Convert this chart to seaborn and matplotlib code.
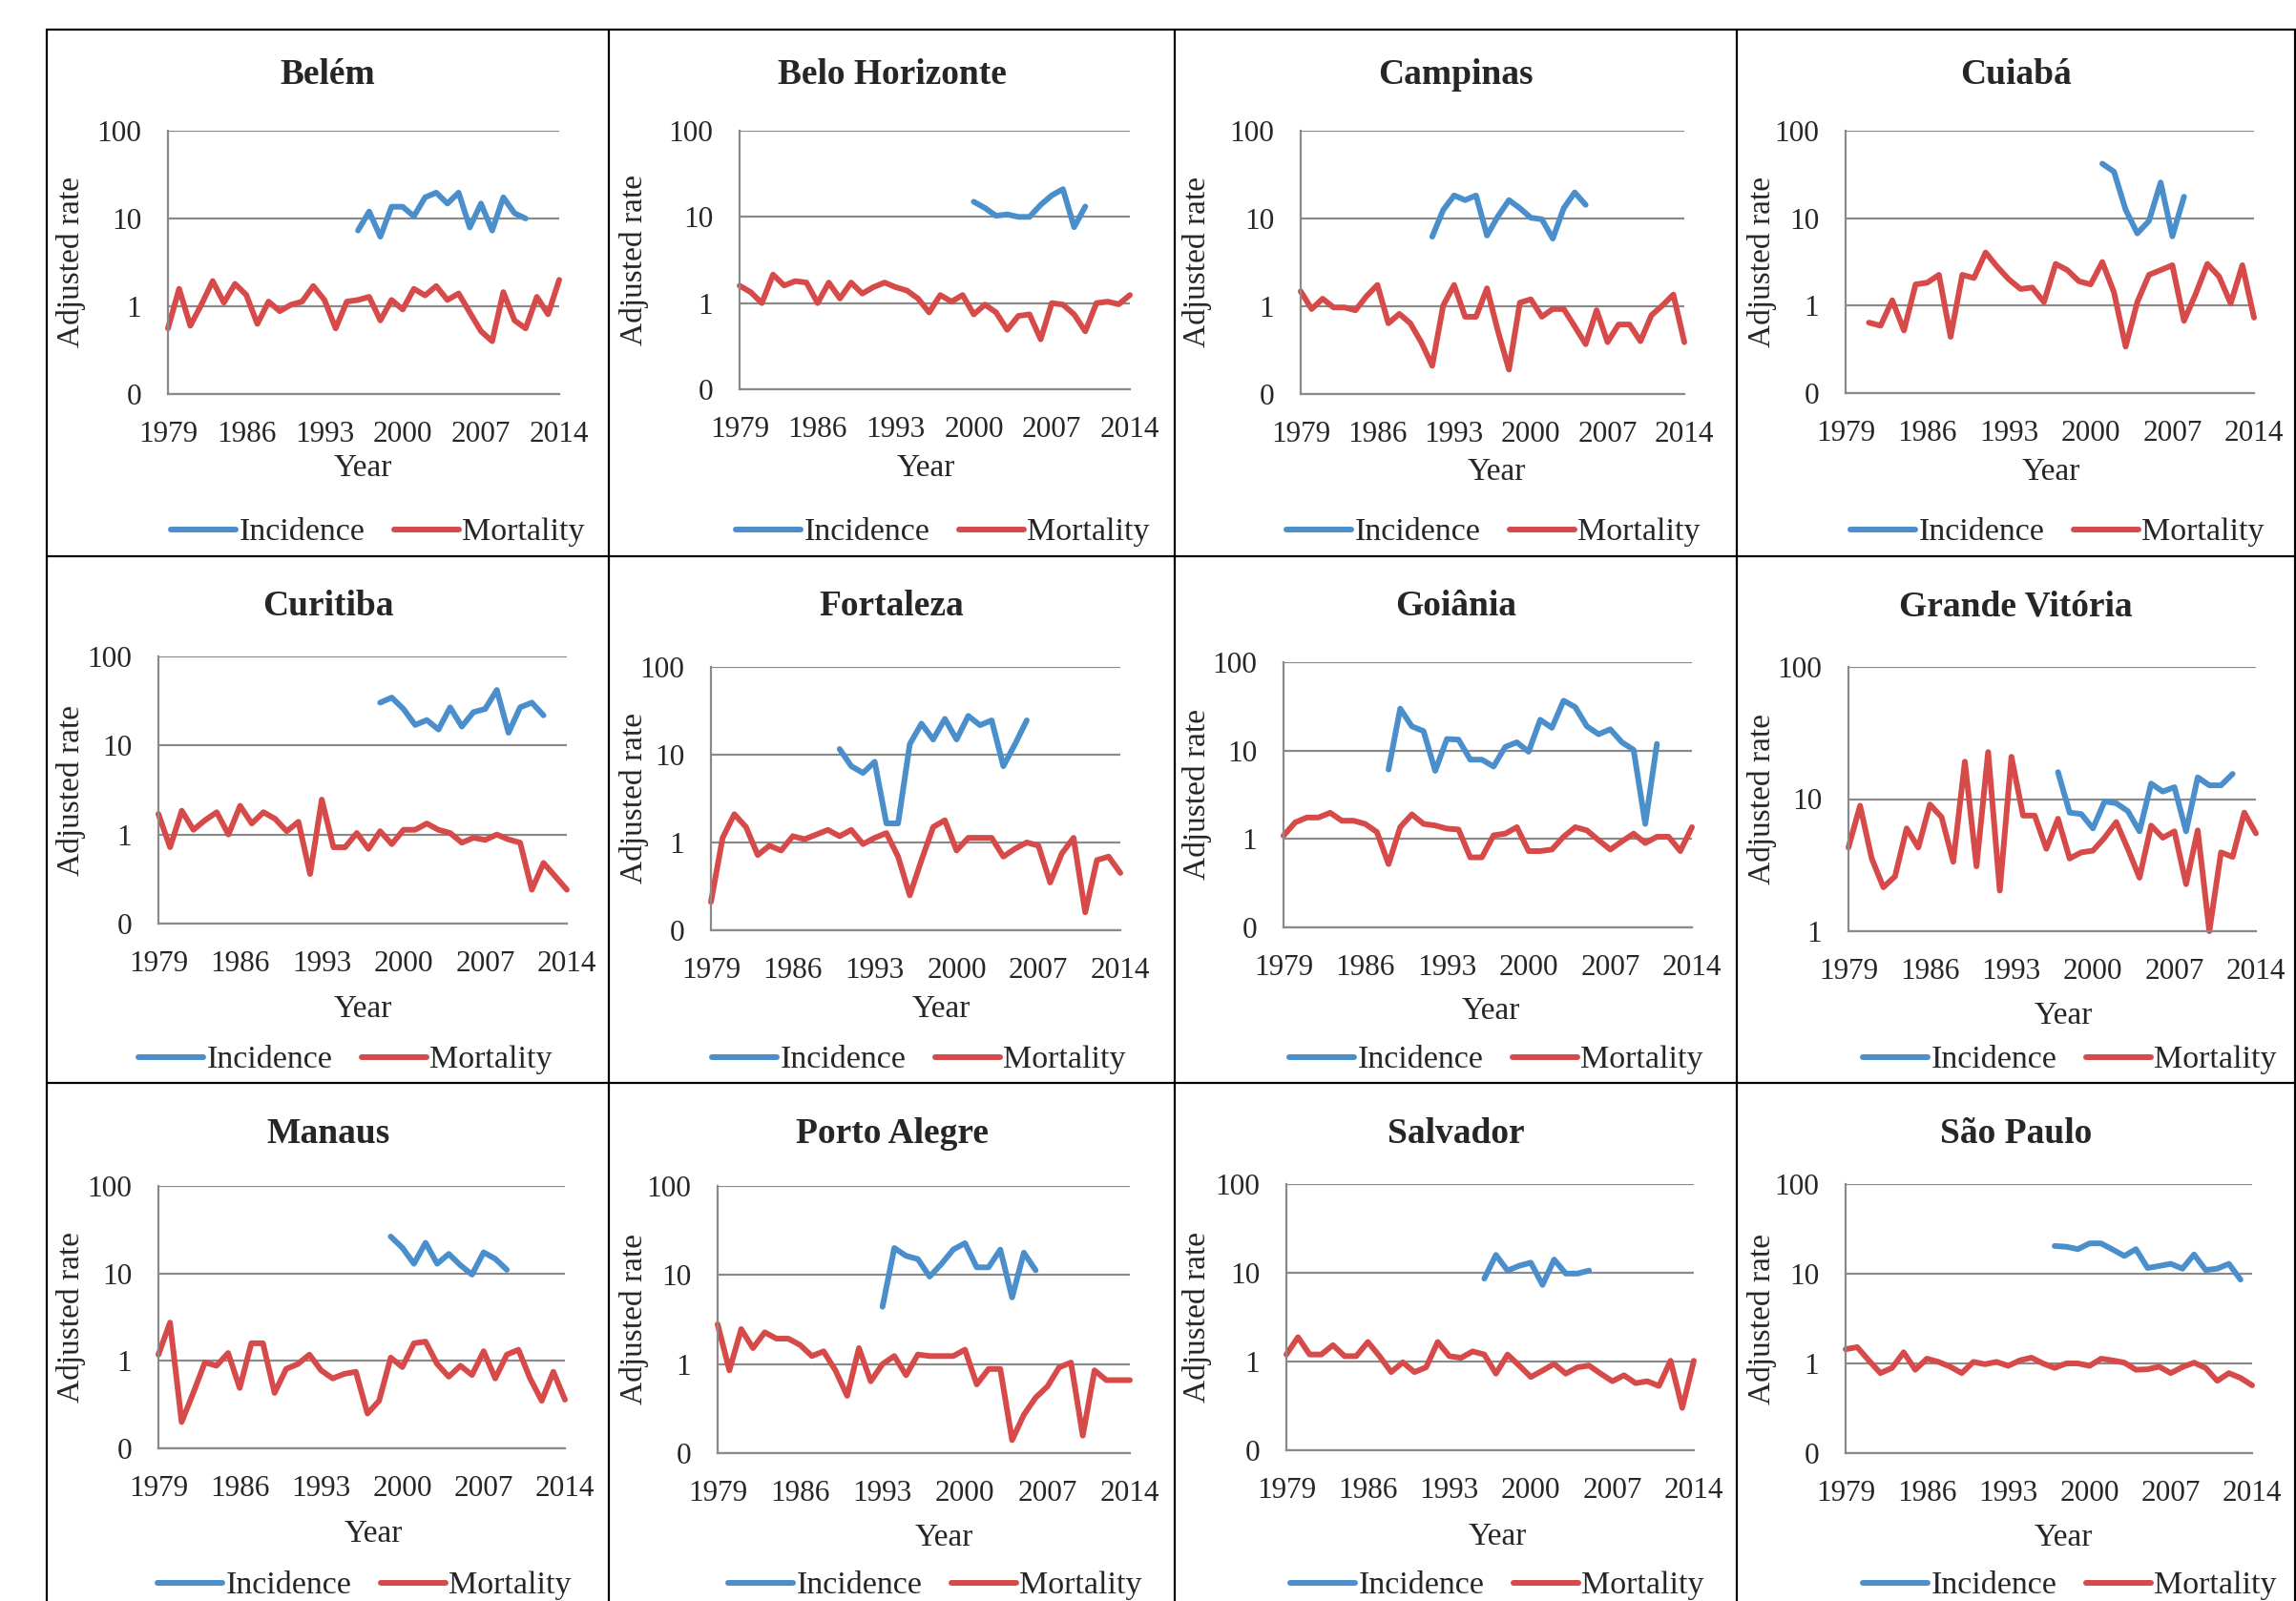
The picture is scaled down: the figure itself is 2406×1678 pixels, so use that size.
import numpy as np
import pandas as pd
import seaborn as sns
import matplotlib.pyplot as plt
from matplotlib.lines import Line2D
from matplotlib.ticker import NullLocator

# ---- data ----
cities = ["Belém", "Belo Horizonte", "Campinas", "Cuiabá",
          "Curitiba", "Fortaleza", "Goiânia", "Grande Vitória",
          "Manaus", "Porto Alegre", "Salvador", "São Paulo"]

# first year of each series
inc_start = [1996, 2000, 1991, 2001, 1998, 1990, 1988, 1997, 1999, 1993, 1996, 1997]
mort_start = [1979, 1979, 1979, 1981, 1979, 1979, 1979, 1979, 1979, 1979, 1979, 1979]

belem_inc = [7.3, 12, 6.2, 13.6, 13.6, 10.6, 17.4, 19.7, 14.8, 19.7, 7.9, 14.8, 7.3, 17.4, 11.5, 10]
belem_mort = [0.56, 1.58, 0.6, 1.05, 1.94, 1.1, 1.8, 1.35, 0.63, 1.13, 0.88, 1.04, 1.13, 1.7, 1.18, 0.56,
              1.13, 1.18, 1.28, 0.69, 1.18, 0.92, 1.58, 1.33, 1.7, 1.18, 1.4, 0.85, 0.52, 0.4, 1.45, 0.69,
              0.56, 1.28, 0.81, 2.0]

bh_inc = [15, 12.7, 10.3, 10.7, 10, 10, 13.8, 17.8, 21, 7.6, 13.2]
bh_mort = [1.59, 1.34, 1.0, 2.14, 1.6, 1.8, 1.73, 1.0, 1.73, 1.13, 1.73, 1.29, 1.53, 1.73, 1.53, 1.4,
           1.13, 0.78, 1.24, 1.04, 1.24, 0.74, 0.96, 0.78, 0.49, 0.71, 0.74, 0.38, 1.0, 0.96, 0.74, 0.47,
           1.0, 1.04, 0.97, 1.24]

campinas_inc = [6.2, 12.5, 18.3, 16.2, 18.3, 6.4, 10.6, 16.2, 13.1, 10.2, 9.8, 5.9, 13.1, 19.8, 14.3]
campinas_mort = [1.48, 0.93, 1.22, 0.97, 0.97, 0.9, 1.3, 1.75, 0.64, 0.82, 0.64, 0.39, 0.21, 1.02, 1.75, 0.76,
                 0.76, 1.6, 0.52, 0.19, 1.1, 1.2, 0.76, 0.93, 0.93, 0.59, 0.37, 0.9, 0.39, 0.62, 0.62, 0.4,
                 0.79, 1.02, 1.36, 0.39]

cuiaba_inc = [42, 34, 12.5, 6.7, 9.3, 25.6, 6.2, 17.6]
cuiaba_mort = [0.64, 0.59, 1.15, 0.52, 1.75, 1.83, 2.25, 0.44, 2.25, 2.07, 4.05, 2.78, 1.99, 1.55, 1.61, 1.1,
               3.0, 2.55, 1.9, 1.75, 3.15, 1.42, 0.34, 1.1, 2.25, 2.55, 2.9, 0.67, 1.36, 3.0, 2.16, 1.06,
               2.9, 0.73]

curitiba_inc = [30.3, 34.5, 25.7, 17, 19.3, 15.1, 26.8, 16.3, 23.7, 25.7, 42, 13.9, 26.8, 30.3, 21.8]
curitiba_mort = [1.7, 0.72, 1.85, 1.13, 1.45, 1.78, 1.0, 2.1, 1.33, 1.78, 1.5, 1.09, 1.39, 0.36, 2.47, 0.72,
                 0.72, 1.04, 0.69, 1.09, 0.78, 1.13, 1.13, 1.33, 1.13, 1.04, 0.81, 0.92, 0.87, 1.0, 0.88, 0.81,
                 0.24, 0.48, 0.34, 0.24]

fortaleza_inc = [11.6, 7.4, 6.2, 8.3, 1.65, 1.65, 13.2, 22.6, 14.9, 25.6, 14.9, 27.7, 21.7, 24.6, 7.4, 13.2, 24.6]
fortaleza_mort = [0.21, 1.13, 2.1, 1.5, 0.72, 0.92, 0.81, 1.18, 1.09, 1.23, 1.39, 1.18, 1.39, 0.96, 1.13, 1.28,
                  0.69, 0.25, 0.63, 1.5, 1.79, 0.81, 1.13, 1.13, 1.13, 0.69, 0.85, 1.0, 0.92, 0.35, 0.75, 1.13,
                  0.16, 0.63, 0.69, 0.45]

goiania_inc = [6.1, 29.8, 18.8, 16.6, 5.9, 13.5, 13.3, 7.9, 7.9, 6.6, 11, 12.4, 9.7, 22.3, 18.1, 36.7,
               31, 18.8, 15.3, 17.4, 12.4, 10.2, 1.48, 11.9]
goiania_mort = [1.09, 1.54, 1.75, 1.75, 1.98, 1.61, 1.61, 1.48, 1.2, 0.52, 1.36, 1.9, 1.48, 1.42, 1.31, 1.28,
                0.62, 0.62, 1.1, 1.15, 1.36, 0.73, 0.73, 0.76, 1.06, 1.36, 1.25, 0.97, 0.76, 0.94, 1.15, 0.9,
                1.06, 1.06, 0.73, 1.36]

vitoria_inc = [16, 7.9, 7.7, 6.0, 9.6, 9.3, 8.1, 5.7, 13.1, 11.4, 12.3, 5.7, 14.6, 12.7, 12.7, 15.5]
vitoria_mort = [4.3, 8.9, 3.55, 2.15, 2.6, 6.0, 4.3, 9.1, 7.3, 3.35, 19.2, 3.1, 22.7, 2.03, 20.9, 7.5,
                7.5, 4.2, 7.1, 3.55, 3.95, 4.07, 5.1, 6.7, 4.2, 2.54, 6.3, 5.1, 5.7, 2.27, 5.8, 1.0,
                3.95, 3.65, 7.9, 5.5]

manaus_inc = [26.4, 19.7, 12.9, 22.4, 12.9, 16.7, 12.4, 9.7, 17.4, 14.7, 11]
manaus_mort = [1.18, 2.74, 0.2, 0.43, 0.96, 0.88, 1.23, 0.49, 1.59, 1.59, 0.43, 0.81, 0.92, 1.18, 0.78, 0.63,
               0.71, 0.75, 0.25, 0.35, 1.09, 0.85, 1.59, 1.66, 0.92, 0.66, 0.88, 0.69, 1.29, 0.63, 1.18, 1.34,
               0.63, 0.35, 0.75, 0.36]

poa_inc = [4.4, 20.1, 16.4, 15.1, 9.6, 13.3, 19.3, 22.8, 12.2, 12.2, 19.3, 5.6, 17.8, 11.3]
poa_mort = [2.8, 0.85, 2.47, 1.51, 2.27, 1.93, 1.93, 1.64, 1.23, 1.39, 0.85, 0.44, 1.51, 0.64, 1.0, 1.23,
            0.75, 1.28, 1.23, 1.23, 1.23, 1.45, 0.59, 0.88, 0.88, 0.14, 0.27, 0.42, 0.56, 0.92, 1.04, 0.157,
            0.85, 0.66, 0.66, 0.66]

salvador_inc = [8.6, 15.9, 10.6, 12, 13, 7.3, 14.1, 9.8, 9.8, 10.6]
salvador_mort = [1.2, 1.88, 1.2, 1.2, 1.53, 1.15, 1.15, 1.66, 1.15, 0.76, 0.98, 0.76, 0.86, 1.66, 1.15, 1.1,
                 1.3, 1.2, 0.73, 1.2, 0.9, 0.67, 0.79, 0.94, 0.73, 0.86, 0.9, 0.73, 0.6, 0.7, 0.57, 0.6,
                 0.53, 1.02, 0.3, 1.02]

sp_inc = [20.4, 20, 18.8, 21.8, 21.8, 18.6, 15.8, 18.8, 11.6, 12.2, 12.9, 11.4, 16.4, 11, 11.4, 12.9, 8.6]
sp_mort = [1.44, 1.52, 1.08, 0.78, 0.89, 1.33, 0.85, 1.13, 1.04, 0.92, 0.78, 1.04, 0.98, 1.04, 0.94, 1.08,
           1.16, 1.0, 0.89, 1.0, 1.0, 0.94, 1.13, 1.08, 1.02, 0.85, 0.86, 0.92, 0.78, 0.91, 1.02, 0.89,
           0.64, 0.78, 0.69, 0.57]

incidence = [belem_inc, bh_inc, campinas_inc, cuiaba_inc, curitiba_inc, fortaleza_inc,
             goiania_inc, vitoria_inc, manaus_inc, poa_inc, salvador_inc, sp_inc]
mortality = [belem_mort, bh_mort, campinas_mort, cuiaba_mort, curitiba_mort, fortaleza_mort,
             goiania_mort, vitoria_mort, manaus_mort, poa_mort, salvador_mort, sp_mort]

year_ticks = [1979, 1986, 1993, 2000, 2007, 2014]

# ---- layout (pixels in a 2406x1678 canvas) ----
W, H = 2406, 1678
# plot area: left, top, right, bottom
rects = [(176, 137, 586, 413), (775, 137, 1184, 408), (1363, 137, 1765, 413), (1934, 137, 2362, 412),
         (166, 688, 594, 968), (745, 699, 1174, 975), (1345, 694, 1773, 972), (1937, 699, 2364, 976),
         (166, 1243, 592, 1518), (752, 1243, 1184, 1523), (1348, 1241, 1775, 1520), (1934, 1241, 2360, 1523)]
col_edges = [49, 638, 1231, 1820, 2405]
row_edges = [31, 583, 1135, 1700]
title_y = [78, 636, 1188]
ylab_x = [74, 665, 1255, 1846]
xlab_pos = [(380, 491), (970, 491), (1568, 495), (2149, 495),
            (380, 1058), (986, 1058), (1562, 1060), (2162, 1065),
            (391, 1608), (989, 1612), (1569, 1611), (2162, 1612)]
leg_x = [396, 988, 1565, 2156, 362, 963, 1568, 2169, 382, 980, 1569, 2169]
leg_y = [558, 1111, 1662]

blue = "#4a8fcb"
red = "#d64b4a"
grid_c = "#8a8a8a"

sns.set_style("white")
plt.rcParams["font.family"] = ["Liberation Serif", "DejaVu Serif"]

fig = plt.figure(figsize=(W / 100, H / 100), dpi=100)

for i, city in enumerate(cities):
    l, t, r, b = rects[i]
    ax = fig.add_axes([l / W, 1 - b / H, (r - l) / W, (b - t) / H])
    inc = incidence[i]
    mort = mortality[i]
    df = pd.concat([
        pd.DataFrame({"year": np.arange(inc_start[i], inc_start[i] + len(inc)), "rate": inc, "series": "Incidence"}),
        pd.DataFrame({"year": np.arange(mort_start[i], mort_start[i] + len(mort)), "rate": mort, "series": "Mortality"}),
    ], ignore_index=True)
    sns.lineplot(data=df, x="year", y="rate", hue="series", palette={"Incidence": blue, "Mortality": red},
                 estimator=None, linewidth=4.3, legend=False, ax=ax,
                 solid_joinstyle="round", solid_capstyle="round")

    ax.set_yscale("log")
    if city == "Grande Vitória":
        ax.set_ylim(1, 100)
        ax.set_yticks([1, 10, 100])
        ax.set_yticklabels(["1", "10", "100"])
    else:
        ax.set_ylim(0.1, 100)
        ax.set_yticks([0.1, 1, 10, 100])
        ax.set_yticklabels(["0", "1", "10", "100"])
    ax.yaxis.set_minor_locator(NullLocator())
    ax.set_xlim(1979, 2014)
    ax.set_xticks(year_ticks)
    ax.set_xticklabels([str(y) for y in year_ticks])
    ax.tick_params(axis="both", length=0, labelsize=22.5)
    ax.tick_params(axis="x", pad=20)
    ax.tick_params(axis="y", pad=20)

    ax.grid(axis="y", color=grid_c, linewidth=1.6)
    ax.grid(axis="x", visible=False)
    for s in ["top", "right"]:
        ax.spines[s].set_visible(False)
    for s in ["left", "bottom"]:
        ax.spines[s].set_color(grid_c)
        ax.spines[s].set_linewidth(1.6)
    for ln in ax.lines:
        ln.set_clip_on(False)

    ax.set_ylabel("Adjusted rate", fontsize=24)
    ax.yaxis.set_label_coords(ylab_x[i % 4] / W, 1 - (t + b) / 2 / H, transform=fig.transFigure)
    ax.yaxis.label.set_va("center")
    ax.set_xlabel("Year", fontsize=24)
    ax.xaxis.set_label_coords(xlab_pos[i][0] / W, 1 - xlab_pos[i][1] / H, transform=fig.transFigure)
    ax.xaxis.label.set_va("center")

    cx = (col_edges[i % 4] + col_edges[i % 4 + 1]) / 2
    fig.text(cx / W, 1 - title_y[i // 4] / H, city, ha="center", va="center",
             fontsize=27, fontweight="bold")

    handles = [Line2D([0], [0], color=blue, lw=4.3), Line2D([0], [0], color=red, lw=4.3)]
    ax.legend(handles, ["Incidence", "Mortality"], loc="center", ncol=2, frameon=False,
              bbox_to_anchor=(leg_x[i] / W, 1 - leg_y[i // 4] / H), bbox_transform=fig.transFigure,
              fontsize=24.5, handlelength=2.0, handletextpad=0.1, columnspacing=0.9)

# panel frames
for x in col_edges:
    fig.add_artist(Line2D([x / W, x / W], [0, 1 - row_edges[0] / H], color="black", lw=1.6))
for y in row_edges[:3]:
    fig.add_artist(Line2D([col_edges[0] / W, 1], [1 - y / H, 1 - y / H], color="black", lw=1.6))

fig.savefig("out.png", dpi=100)
